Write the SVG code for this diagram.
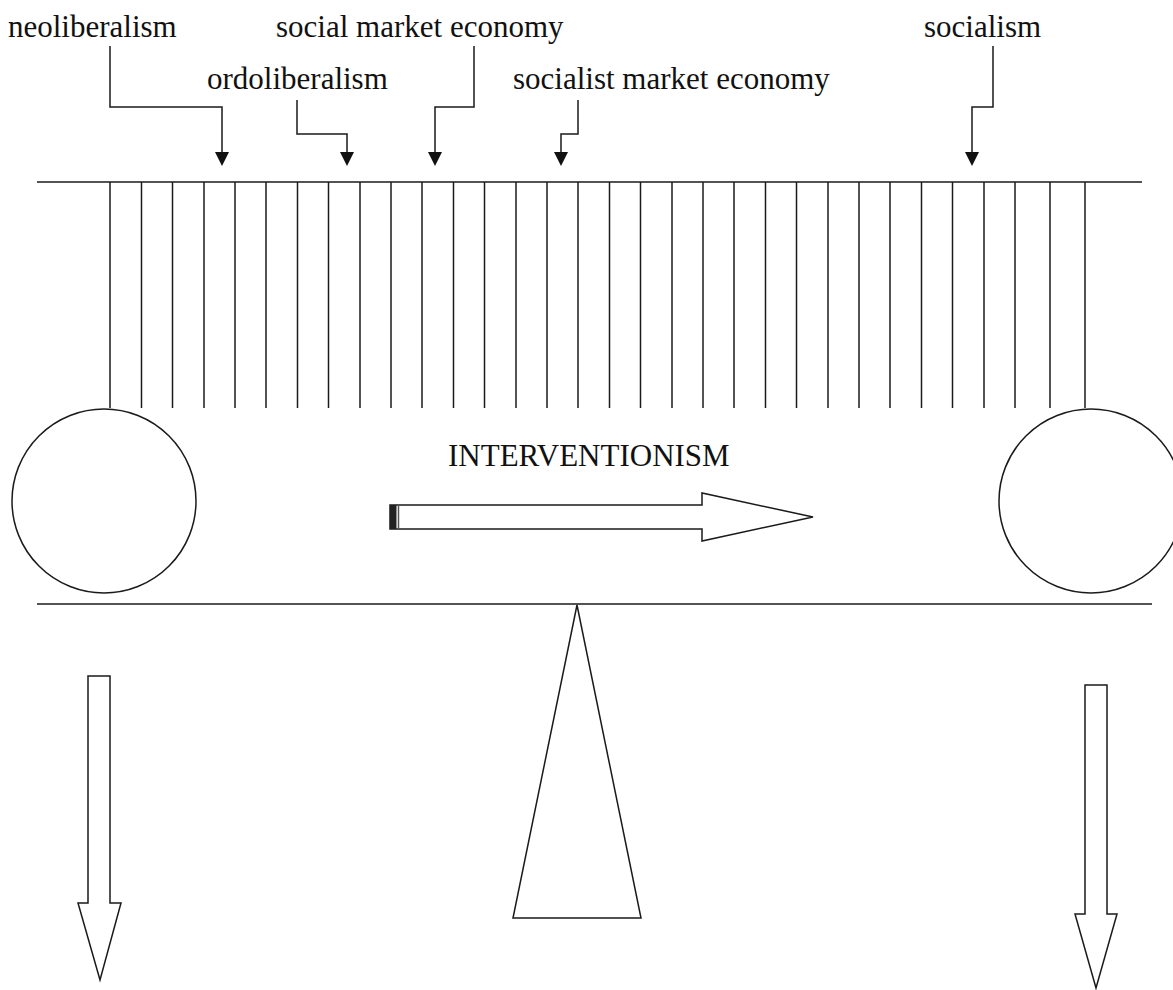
<svg xmlns="http://www.w3.org/2000/svg" width="1173" height="990" viewBox="0 0 1173 990">
  <style>
    .ln { stroke: #1a1a1a; stroke-width: 1.5; fill: none; }
    .shape { stroke: #1a1a1a; stroke-width: 1.5; fill: #ffffff; }
    .lbl { font-family: "Liberation Serif", "Times New Roman", serif; font-size: 31px; fill: #111111; }
  </style>
  <defs>
    <marker id="tip" viewBox="0 0 14 14" refX="7" refY="14" markerWidth="14" markerHeight="14" markerUnits="userSpaceOnUse" orient="auto-start-reverse">
      <path d="M0,0 L14,0 L7,14 Z" fill="#111111"/>
    </marker>
  </defs>
  <rect width="1173" height="990" fill="#ffffff"/>

  <!-- labels of the economic systems -->
  <g id="neoliberalism"><text class="lbl" x="8" y="37">neoliberalism</text></g>
  <g id="ordoliberalism"><text class="lbl" x="207" y="89">ordoliberalism</text></g>
  <g id="social-market-economy"><text class="lbl" x="276" y="37">social market economy</text></g>
  <g id="socialist-market-economy"><text class="lbl" x="513" y="89">socialist market economy</text></g>
  <g id="socialism"><text class="lbl" x="924" y="37">socialism</text></g>

  <!-- elbow pointers onto the beam -->
  <g id="connectors">
    <path class="ln" d="M110,46 V107 H222 V152"/>
    <path d="M215,152 H229 L222,166 Z" fill="#111"/>
    <path class="ln" d="M297,100 V134 H347 V152"/>
    <path d="M340,152 H354 L347,166 Z" fill="#111"/>
    <path class="ln" d="M474,46 V107 H435 V152"/>
    <path d="M428,152 H442 L435,166 Z" fill="#111"/>
    <path class="ln" d="M578,100 V134 H561 V152"/>
    <path d="M554,152 H568 L561,166 Z" fill="#111"/>
    <path class="ln" d="M993,46 V107 H972 V152"/>
    <path d="M965,152 H979 L972,166 Z" fill="#111"/>
  </g>

  <!-- upper beam with hanging strings -->
  <g id="upper-beam">
    <line class="ln" x1="37" y1="182" x2="1142" y2="182"/>
    <line class="ln" x1="110" y1="182" x2="110" y2="408"/>
    <g class="ln">
      <line x1="141.5" y1="182" x2="141.5" y2="408"/>
      <line x1="172.5" y1="182" x2="172.5" y2="408"/>
      <line x1="204" y1="182" x2="204" y2="408"/>
      <line x1="235" y1="182" x2="235" y2="408"/>
      <line x1="266" y1="182" x2="266" y2="408"/>
      <line x1="297.5" y1="182" x2="297.5" y2="408"/>
      <line x1="328.5" y1="182" x2="328.5" y2="408"/>
      <line x1="360" y1="182" x2="360" y2="408"/>
      <line x1="391" y1="182" x2="391" y2="408"/>
      <line x1="422" y1="182" x2="422" y2="408"/>
      <line x1="453.5" y1="182" x2="453.5" y2="408"/>
      <line x1="484.5" y1="182" x2="484.5" y2="408"/>
      <line x1="516" y1="182" x2="516" y2="408"/>
      <line x1="547" y1="182" x2="547" y2="408"/>
      <line x1="578" y1="182" x2="578" y2="408"/>
      <line x1="609.5" y1="182" x2="609.5" y2="408"/>
      <line x1="640.5" y1="182" x2="640.5" y2="408"/>
      <line x1="672" y1="182" x2="672" y2="408"/>
      <line x1="703" y1="182" x2="703" y2="408"/>
      <line x1="734" y1="182" x2="734" y2="408"/>
      <line x1="765.5" y1="182" x2="765.5" y2="408"/>
      <line x1="796.5" y1="182" x2="796.5" y2="408"/>
      <line x1="828" y1="182" x2="828" y2="408"/>
      <line x1="859" y1="182" x2="859" y2="408"/>
      <line x1="890" y1="182" x2="890" y2="408"/>
      <line x1="921.5" y1="182" x2="921.5" y2="408"/>
      <line x1="952.5" y1="182" x2="952.5" y2="408"/>
      <line x1="984" y1="182" x2="984" y2="408"/>
      <line x1="1015" y1="182" x2="1015" y2="408"/>
      <line x1="1050" y1="182" x2="1050" y2="408"/>
    </g>
    <line class="ln" x1="1085" y1="182" x2="1085" y2="408"/>
  </g>

  <!-- weights at both ends -->
  <g id="left-weight"><circle class="shape" cx="104" cy="501" r="92"/></g>
  <g id="right-weight"><circle class="shape" cx="1091" cy="501" r="92"/></g>

  <!-- direction of intervention -->
  <g id="interventionism">
    <text class="lbl" x="448" y="466">INTERVENTIONISM</text>
    <path class="shape" d="M390,505 H702 V493 L813,517 L702,541 V529 H390 Z"/>
    <rect x="390" y="505" width="6.5" height="24" fill="#222"/>
    <line x1="398.5" y1="505" x2="398.5" y2="529" stroke="#555" stroke-width="1.5"/>
  </g>

  <!-- lower beam and fulcrum -->
  <g id="lower-beam"><line class="ln" x1="37" y1="604" x2="1152" y2="604"/></g>
  <g id="fulcrum"><path class="shape" d="M577,605 L641,918 H513 Z"/></g>

  <!-- downward arrows under the weights -->
  <g id="left-down-arrow"><path class="shape" d="M88,676 H110 V903 H121 L100,980 L78,903 H88 Z"/></g>
  <g id="right-down-arrow"><path class="shape" d="M1085,685 H1107 V914 H1117 L1096,988 L1075,914 H1085 Z"/></g>
</svg>
